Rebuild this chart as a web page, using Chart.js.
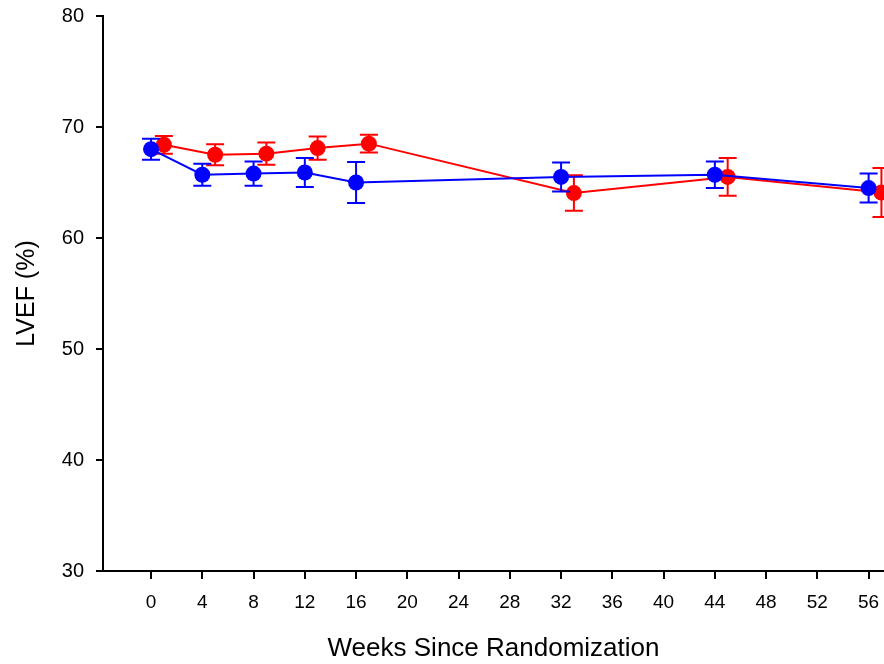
<!DOCTYPE html>
<html>
<head>
<meta charset="utf-8">
<script src="https://cdn.jsdelivr.net/npm/chart.js@4"></script>
<style>
  body { margin: 0; background: #fff; }
</style>
</head>
<body>
<canvas id="lvefChart" width="884" height="664"></canvas>
<script>
const blueWeeks = [0, 4, 8, 12, 16, 32, 44, 56];
const blueMean = [68.0, 65.7, 65.8, 65.9, 65.0, 65.5, 65.7, 64.5];
const blueErr = [0.95, 1.0, 1.1, 1.3, 1.85, 1.3, 1.2, 1.3];

const redWeeks = [1, 5, 9, 13, 17, 33, 45, 57];
const redMean = [68.4, 67.5, 67.6, 68.1, 68.5, 64.05, 65.5, 64.1];
const redErr = [0.8, 0.95, 1.0, 1.05, 0.8, 1.6, 1.7, 2.2];

const xTicks = [0, 4, 8, 12, 16, 20, 24, 28, 32, 36, 40, 44, 48, 52, 56];
const yTicks = [30, 40, 50, 60, 70, 80];

function toPoints(weeks, mean) {
    return weeks.map((w, i) => ({ x: w, y: mean[i] }));
}

// draws the vertical error bar with caps, under each dataset's points
const errorBars = {
    id: 'errorBars',
    beforeDatasetDraw: (chart, args) => {
        const ds = chart.data.datasets[args.index];
        const ctx = chart.ctx;
        const xs = chart.scales.x;
        const ys = chart.scales.y;
        ctx.save();
        ctx.strokeStyle = ds.borderColor;
        ctx.lineWidth = 2;
        ds.data.forEach((p, i) => {
            const px = xs.getPixelForValue(p.x);
            const top = ys.getPixelForValue(p.y + ds.errors[i]);
            const bot = ys.getPixelForValue(p.y - ds.errors[i]);
            ctx.beginPath();
            ctx.moveTo(px, top);
            ctx.lineTo(px, bot);
            ctx.moveTo(px - 9, top);
            ctx.lineTo(px + 9, top);
            ctx.moveTo(px - 9, bot);
            ctx.lineTo(px + 9, bot);
            ctx.stroke();
        });
        ctx.restore();
    }
};

const lvef = document.getElementById('lvefChart');

new Chart(lvef, {
    type: 'line',
    data: {
        datasets: [{
            label: 'Blue',
            data: toPoints(blueWeeks, blueMean),
            errors: blueErr,
            borderColor: '#0000ff',
            backgroundColor: '#0000ff',
            borderWidth: 2,
            pointRadius: 8,
            pointBorderWidth: 0,
            tension: 0
        }, {
            label: 'Red',
            data: toPoints(redWeeks, redMean),
            errors: redErr,
            borderColor: '#ff0000',
            backgroundColor: '#ff0000',
            borderWidth: 2,
            pointRadius: 8,
            pointBorderWidth: 0,
            tension: 0
        }]
    },
    plugins: [errorBars],
    options: {
        responsive: false,
        animation: false,
        layout: { autoPadding: false, padding: { top: 16, right: 0, left: 0, bottom: 0 } },
        plugins: {
            legend: { display: false },
            tooltip: { enabled: false }
        },
        scales: {
            x: {
                type: 'linear',
                min: -3.75,
                max: 57.2,
                afterBuildTicks: (axis) => { axis.ticks = xTicks.map(v => ({ value: v })); },
                afterFit: (axis) => {
                    axis.height = 93;
                    axis.paddingLeft = 0;
                    axis.paddingRight = 0;
                },
                grid: { drawOnChartArea: false, drawTicks: true, tickLength: 8, color: '#000', lineWidth: 2 },
                border: { display: true, color: '#000', width: 2 },
                ticks: {
                    color: '#000',
                    padding: 12,
                    maxRotation: 0,
                    font: { family: 'Liberation Sans', size: 19 }
                },
                title: {
                    display: true,
                    text: 'Weeks Since Randomization',
                    color: '#000',
                    padding: { top: 0, bottom: 0 },
                    font: { family: 'Liberation Sans', size: 26 }
                }
            },
            y: {
                min: 30,
                max: 80,
                afterBuildTicks: (axis) => { axis.ticks = yTicks.map(v => ({ value: v })); },
                afterFit: (axis) => {
                    axis.width = 103;
                    axis.paddingTop = 0;
                    axis.paddingBottom = 0;
                },
                grid: { drawOnChartArea: false, drawTicks: true, tickLength: 7, color: '#000', lineWidth: 2 },
                border: { display: true, color: '#000', width: 2 },
                ticks: {
                    color: '#000',
                    padding: 12,
                    font: { family: 'Liberation Sans', size: 20 }
                },
                title: {
                    display: true,
                    text: 'LVEF (%)',
                    color: '#000',
                    padding: { top: 12, bottom: 0 },
                    font: { family: 'Liberation Sans', size: 25 }
                }
            }
        }
    }
});
</script>
</body>
</html>
